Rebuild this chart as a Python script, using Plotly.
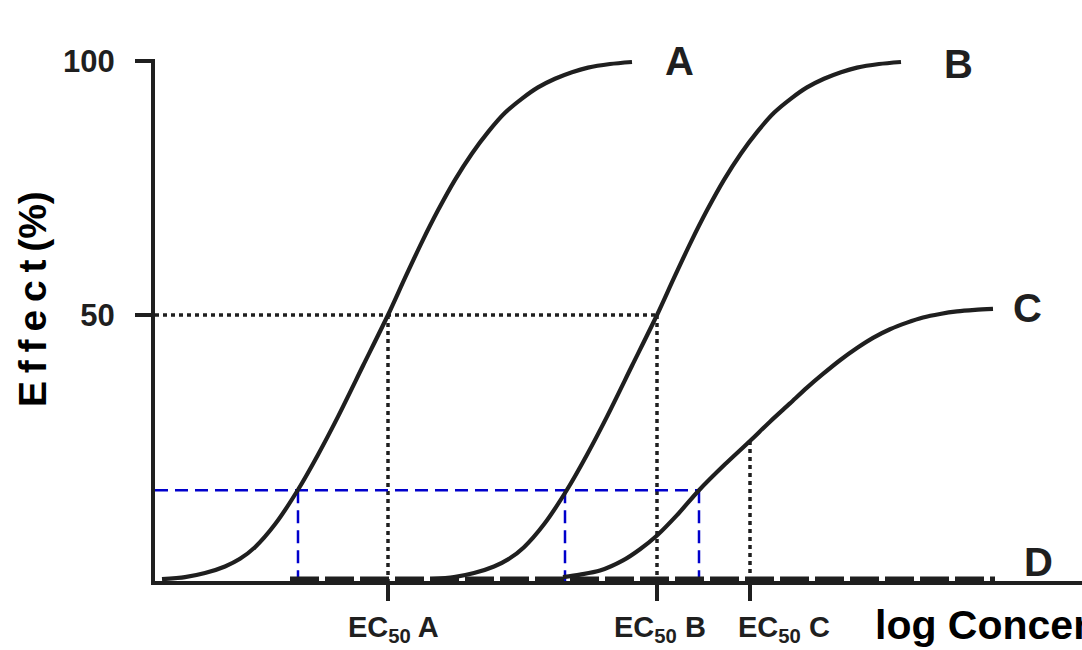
import plotly.graph_objects as go

# ---- data (x: log concentration units, y: effect %) ----
curve_a_x = [0.07, 0.30, 0.50, 0.70, 0.85, 1.00, 1.20, 1.43, 1.63, 1.83, 2.08, 2.33, 2.50,
             2.67, 2.83, 3.00, 3.17, 3.33, 3.50, 3.67, 3.83, 4.00, 4.17, 4.33, 4.55, 4.77]
curve_a_y = [-2.0, -1.6, -0.8, 0.5, 2.0, 4.3, 8.8, 15.6, 22.5, 30.0, 40.0, 50.0, 57.3,
             64.4, 70.6, 76.6, 81.8, 86.0, 89.8, 92.6, 94.8, 96.5, 97.8, 98.7, 99.4, 99.8]

curve_b_x = [2.76, 2.99, 3.19, 3.39, 3.54, 3.69, 3.89, 4.12, 4.32, 4.52, 4.77, 5.02, 5.19,
             5.36, 5.52, 5.69, 5.86, 6.02, 6.19, 6.36, 6.52, 6.69, 6.86, 7.02, 7.24, 7.46]
curve_b_y = [-2.0, -1.6, -0.8, 0.5, 2.0, 4.3, 8.8, 15.6, 22.5, 30.0, 40.0, 50.0, 57.3,
             64.4, 70.6, 76.6, 81.8, 86.0, 89.8, 92.6, 94.8, 96.5, 97.8, 98.7, 99.4, 99.8]

curve_c_x = [4.08, 4.25, 4.45, 4.68, 4.85, 5.02, 5.22, 5.44, 5.70, 5.95, 6.15, 6.35, 6.52,
             6.68, 6.85, 7.02, 7.18, 7.35, 7.52, 7.68, 7.85, 8.02, 8.20, 8.38]
curve_c_y = [-1.6, -1.1, -0.3, 1.7, 3.9, 6.6, 10.6, 15.5, 20.6, 25.2, 29.0, 32.6, 35.7,
             38.4, 41.1, 43.5, 45.5, 47.2, 48.5, 49.5, 50.2, 50.7, 51.0, 51.2]

curve_d_x = [1.35, 8.40]
curve_d_y = [-1.95, -1.95]

ec50_x = [2.33, 5.02, 5.95]
ec50_y = [50.0, 50.0, 25.2]
ec50_labels = ["EC<sub>50</sub> A", "EC<sub>50</sub> B", "EC<sub>50</sub> C"]
ec50_label_x = [2.38, 5.05, 6.29]

half_effect = 50.0
blue_level = 15.5
blue_x = [1.43, 4.10, 5.44]

y_tick_vals = [50, 100]
y_tick_text = ["50", "100"]

X_RANGE = [0, 9.27]
Y_RANGE = [-2.36, 100.39]

INK = "#1f1f1f"
BLUE = "#0000cc"
FONT = "Liberation Sans, Arial, sans-serif"

# plot area in pixels (for paper-coordinate placement of titles)
PL, PR, PT, PB = 155, 1082, 59, 581
def px_x(p):
    return (p - PL) / (PR - PL)
def px_y(p):
    return (PB - p) / (PB - PT)

fig = go.Figure()

# black dotted guide lines
fig.add_trace(go.Scatter(x=[X_RANGE[0], ec50_x[1]], y=[half_effect, half_effect], mode="lines",
                         line=dict(color=INK, width=3.5, dash="4px,4px"), hoverinfo="skip"))
for xv, yv in zip(ec50_x, ec50_y):
    fig.add_trace(go.Scatter(x=[xv, xv], y=[yv, Y_RANGE[0]], mode="lines",
                             line=dict(color=INK, width=3.5, dash="4px,4px"), hoverinfo="skip"))

# blue dashed guide lines
fig.add_trace(go.Scatter(x=[X_RANGE[0], blue_x[-1]], y=[blue_level, blue_level], mode="lines",
                         line=dict(color=BLUE, width=2.5, dash="13px,7px"), hoverinfo="skip"))
for xv in blue_x:
    fig.add_trace(go.Scatter(x=[xv, xv], y=[blue_level, Y_RANGE[0]], mode="lines",
                             line=dict(color=BLUE, width=2.5, dash="13px,7px"), hoverinfo="skip"))

# curves
for cx, cy in [(curve_a_x, curve_a_y), (curve_b_x, curve_b_y), (curve_c_x, curve_c_y)]:
    fig.add_trace(go.Scatter(x=cx, y=cy, mode="lines",
                             line=dict(color=INK, width=4.2, shape="spline", smoothing=0.8),
                             hoverinfo="skip"))

fig.add_trace(go.Scatter(x=curve_d_x, y=curve_d_y, mode="lines",
                         line=dict(color=INK, width=5, dash="29px,6px"), hoverinfo="skip"))

# curve labels
for txt, xv, yv in [("A", 5.24, 100.0), ("B", 8.03, 99.4), ("C", 8.72, 51.4), ("D", 8.83, 1.4)]:
    fig.add_annotation(x=xv, y=yv, xref="x", yref="y", text=txt, showarrow=False,
                       xanchor="center", yanchor="middle",
                       font=dict(family=FONT, size=40, color=INK, weight="bold"))

# EC50 tick labels (offset slightly from the ticks, as in the original)
for txt, xv in zip(ec50_labels, ec50_label_x):
    fig.add_annotation(x=xv, y=px_y(629), xref="x", yref="paper", text=txt, showarrow=False,
                       xanchor="center", yanchor="middle",
                       font=dict(family=FONT, size=29, color=INK, weight="bold"))

# axis titles
fig.add_annotation(x=px_x(873), y=px_y(625), xref="paper", yref="paper",
                   text="log Concentration", showarrow=False, xanchor="left", yanchor="middle",
                   font=dict(family=FONT, size=41, color="#000000", weight="bold"))
fig.add_annotation(x=px_x(32), y=px_y(299), xref="paper", yref="paper",
                   text="E\u2009f\u2009f\u2009e\u2009c\u2009t\u2009(%)", showarrow=False,
                   textangle=-90, xanchor="center", yanchor="middle",
                   font=dict(family=FONT, size=39, color="#000000", weight="bold"))

fig.update_layout(
    width=1082, height=650,
    margin=dict(l=PL, r=1082 - PR, t=PT, b=650 - PB),
    paper_bgcolor="white", plot_bgcolor="white",
    showlegend=False,
    xaxis=dict(range=X_RANGE, showgrid=False, zeroline=False, showline=True,
               linecolor=INK, linewidth=4, ticks="outside", ticklen=16, tickwidth=4,
               tickcolor=INK, tickvals=ec50_x, showticklabels=False),
    yaxis=dict(range=Y_RANGE, showgrid=False, zeroline=False, showline=True,
               linecolor=INK, linewidth=4, ticks="outside", ticklen=16, tickwidth=4,
               tickcolor=INK, tickvals=y_tick_vals, ticktext=y_tick_text,
               tickfont=dict(family=FONT, size=31, color=INK, weight="bold"),
               ticklabelstandoff=14),
)

fig.write_html("out.html")
